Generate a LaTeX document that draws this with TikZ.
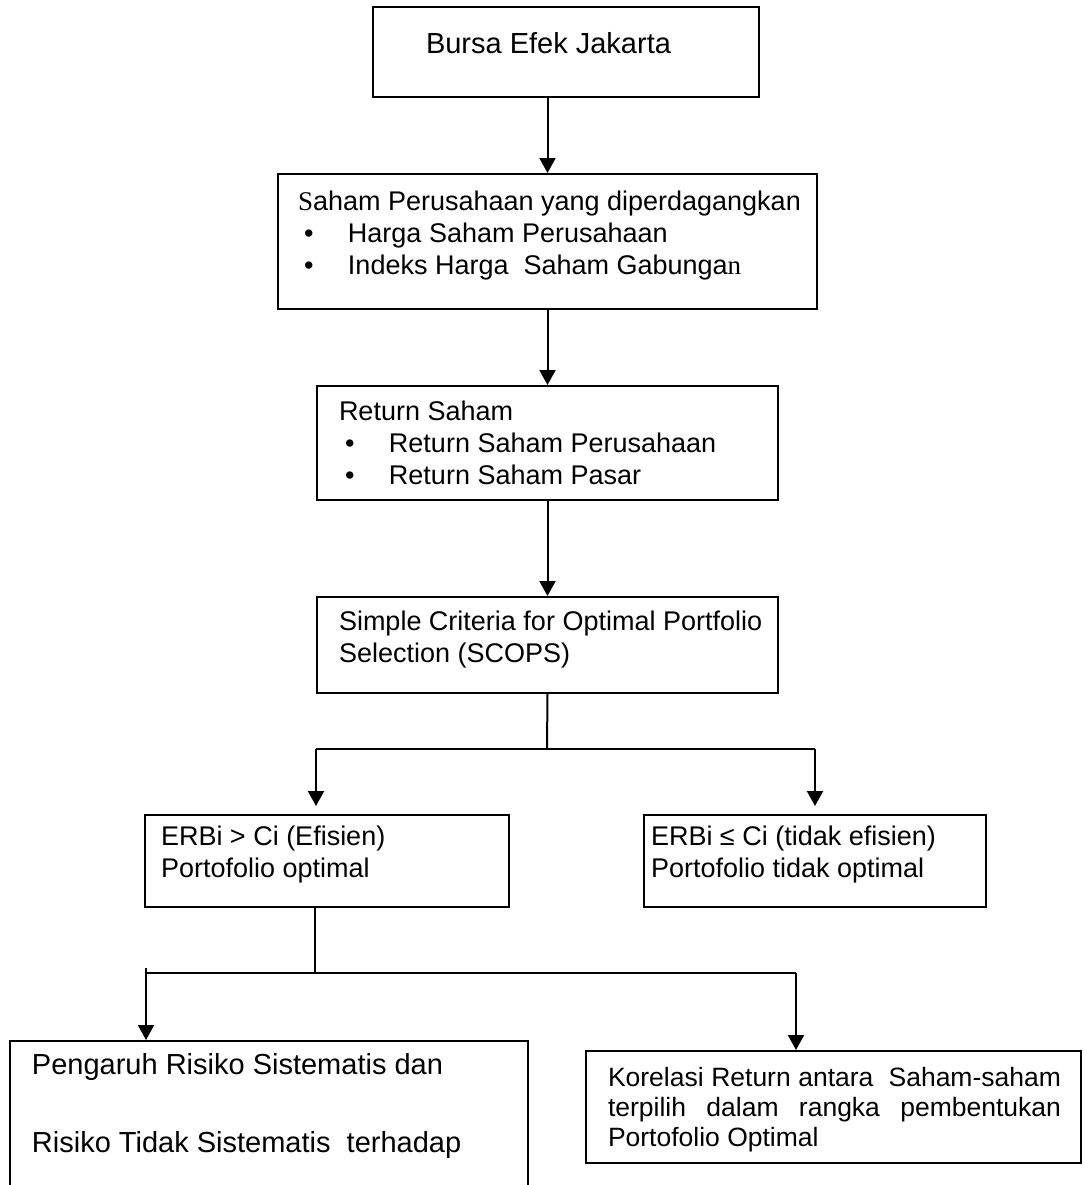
\documentclass[tikz,border=0pt]{standalone}
\usepackage{fontspec}
\setmainfont{Liberation Sans}
\newfontfamily\tnr{Liberation Serif}
\usetikzlibrary{arrows.meta}

\newcommand{\itm}{\hspace*{3pt}\makebox[22pt][l]{\textbullet}}

\begin{document}
\begin{tikzpicture}[x=0.5pt,y=-0.5pt,line width=1pt,>={Triangle[length=7.5pt,width=8pt]},
  box/.style={draw,inner sep=0pt,anchor=north west},
  txt/.style={anchor=north west,inner sep=0pt,align=left,font=\fontsize{13.5}{16}\selectfont}]
\useasboundingbox (0,0) rectangle (1084,1185);
\clip (0,0) rectangle (1084,1185);

% boxes
\node[box,minimum width=193pt,minimum height=45pt] (bej) at (372,6) {};
\node[box,minimum width=269.5pt,minimum height=67.5pt] (saham) at (277,173) {};
\node[box,minimum width=230.5pt,minimum height=57pt] (ret) at (316,385) {};
\node[box,minimum width=230.5pt,minimum height=48pt] (scops) at (316,596) {};
\node[box,minimum width=182pt,minimum height=46pt] (eff) at (144,814) {};
\node[box,minimum width=171pt,minimum height=46pt] (ineff) at (643,814) {};
\node[box,minimum width=259pt,minimum height=85pt] (risk) at (9,1040) {};
\node[box,minimum width=247.5pt,minimum height=56pt] (kor) at (585,1050) {};

% texts
\node[txt,font=\fontsize{14.5}{17}\selectfont] (tbej) at (425,31) {Bursa Efek Jakarta};
\node[txt] (tsaham) at (297,190) {{\tnr S}aham Perusahaan yang diperdagangkan\\
  \itm Harga Saham Perusahaan\\ \itm Indeks Harga\ \ Saham Gabunga{\tnr n}};
\node[txt] (tret) at (338,400) {Return Saham\\ \itm Return Saham Perusahaan\\
  \itm Return Saham Pasar};
\node[txt] (tscops) at (338,610) {Simple Criteria for Optimal Portfolio\\ Selection (SCOPS)};
\node[txt] (teff) at (160,825) {ERBi > Ci (Efisien)\\ Portofolio optimal};
\node[txt] (tineff) at (650,825) {ERBi ≤ Ci (tidak efisien)\\ Portofolio tidak optimal};
\node[txt,font=\fontsize{14.5}{39}\selectfont] (trisk) at (31,1052)
  {Pengaruh Risiko Sistematis dan\\ Risiko Tidak Sistematis\ \ terhadap};
\node[txt,font=\fontsize{13.25}{15}\selectfont] (tkor) at (607,1066)
  {\makebox[226.5pt][s]{Korelasi Return antara\ \ Saham-saham}\\
   \makebox[226.5pt][s]{terpilih dalam rangka pembentukan}\\ Portofolio Optimal};

% arrows
\draw[->] (bej.south -| saham.north) -- (saham.north);
\draw[->] (saham.south) -- (ret.north);
\draw[->] (ret.south) -- (scops.north);

\coordinate (j1) at (547,749);
\coordinate (a1) at (316,749);
\coordinate (a2) at (815,749);
\draw (scops.south) -- (j1);
\draw (a1) -- (a2);
\draw[->,shorten >=4pt] (a1) -- (a1 |- eff.north);
\draw[->,shorten >=4pt] (a2) -- (a2 |- ineff.north);

\coordinate (j2) at (315,973);
\coordinate (b1) at (146,968);
\coordinate (b2) at (796,973);
\draw (j2 |- eff.south) -- (j2);
\draw (b1 |- j2) -- (b2);
\draw[->] (b1) -- (b1 |- risk.north);
\draw[->] (b2) -- (b2 |- kor.north);
\end{tikzpicture}
\end{document}
